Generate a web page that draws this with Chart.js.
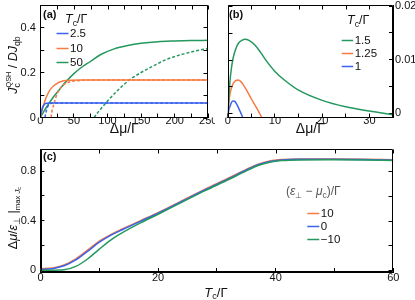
<!DOCTYPE html>
<html>
<head>
<meta charset="utf-8">
<script src="https://cdn.jsdelivr.net/npm/chart.js@4.4.0/dist/chart.umd.min.js"></script>
<style>
body { margin: 0; background: #fff; width: 415px; height: 300px; position: relative; overflow: hidden; }
canvas { position: absolute; }
</style>
</head>
<body>
<canvas id="chartA" width="215" height="140" style="left:0;top:0"></canvas>
<canvas id="chartB" width="200" height="140" style="left:215px;top:0"></canvas>
<canvas id="chartC" width="415" height="160" style="left:0;top:140px"></canvas>
<script>
const FONT = '"Liberation Sans", Arial, sans-serif';
const BLUE = '#3a62ee', ORANGE = '#f77b40', GREEN = '#24985e';

// panel (a): Jc vs dmu, solid and dashed per Tc
const aLegend = ['2.5', '10', '50'];
const aBlueX = [0, 1, 2, 3, 4, 5, 6, 8, 10, 14, 250];
const aBlueY = [0, 0.017, 0.03, 0.041, 0.049, 0.054, 0.058, 0.062, 0.063, 0.064, 0.064];
const aBlueDashX = [7, 8, 9, 10, 11, 12, 14, 17, 20, 250];
const aBlueDashY = [0, 0.017, 0.03, 0.04, 0.048, 0.053, 0.059, 0.063, 0.064, 0.064];
const aOrangeX = [0, 2, 4, 6, 8, 10, 12, 15, 20, 25, 30, 35, 45, 60, 250];
const aOrangeY = [0, 0.025, 0.047, 0.066, 0.083, 0.098, 0.11, 0.125, 0.141, 0.152, 0.159, 0.163, 0.166, 0.167, 0.167];
const aOrangeDashX = [16, 17, 18, 20, 22, 25, 28, 32, 36, 42, 50, 60, 80, 250];
const aOrangeDashY = [0, 0.022, 0.037, 0.057, 0.078, 0.105, 0.122, 0.138, 0.148, 0.157, 0.162, 0.165, 0.167, 0.167];
const aGreenX = [0, 5, 10, 15, 20, 30, 40, 50, 60, 75, 90, 110, 130, 150, 175, 200, 225, 250];
const aGreenY = [0, 0.025, 0.05, 0.072, 0.093, 0.13, 0.165, 0.195, 0.22, 0.25, 0.28, 0.305, 0.32, 0.33, 0.337, 0.34, 0.342, 0.343];
const aGreenDashX = [80, 85, 90, 100, 115, 133, 150, 170, 188, 210, 230, 250];
const aGreenDashY = [0, 0.02, 0.038, 0.073, 0.12, 0.168, 0.2, 0.232, 0.258, 0.28, 0.295, 0.307];

// panel (b)
const bLegend = ['1.5', '1.25', '1'];
const bGreenX = [0, 0.2, 0.5, 0.8, 1.2, 1.7, 2.3, 3, 3.7, 4.5, 5.8, 7, 8, 10, 12, 15, 20, 25, 30, 35];
const bGreenY = [-0.0008, 0.0022, 0.0062, 0.0085, 0.0105, 0.012, 0.0131, 0.0136, 0.0138, 0.0136, 0.0127, 0.0113, 0.01, 0.0078, 0.0062, 0.0043, 0.0024, 0.0012, 0.0004, -0.0003];
const bOrangeX = [0, 0.2, 0.5, 0.8, 1.2, 1.7, 2.2, 2.8, 3.3, 4, 5, 6, 6.5, 7.2, 7.5];
const bOrangeY = [-0.0008, 0.0015, 0.0037, 0.0047, 0.0056, 0.0061, 0.0062, 0.0059, 0.0053, 0.0043, 0.0027, 0.0012, 0.0004, -0.0008, -0.0012];
const bBlueX = [0, 0.2, 0.5, 0.8, 1.1, 1.5, 1.9, 2.3, 2.7, 3.1, 3.4];
const bBlueY = [-0.0008, 0.0005, 0.0013, 0.002, 0.0023, 0.0022, 0.0017, 0.001, 0.0002, -0.0006, -0.0012];

// panel (c)
const cLegend = ['10', '0', '\u221210'];
const cX = [0, 2, 4, 6, 8, 10, 12, 14, 17, 20, 24, 28, 32, 35, 37, 39, 41, 44, 50, 55, 60];
const cOrangeY = [0.012, 0.018, 0.042, 0.092, 0.162, 0.235, 0.29, 0.335, 0.4, 0.465, 0.56, 0.655, 0.745, 0.815, 0.858, 0.884, 0.895, 0.9, 0.9, 0.898, 0.893];
const cBlueY = [0.006, 0.012, 0.035, 0.083, 0.152, 0.226, 0.283, 0.329, 0.395, 0.46, 0.555, 0.65, 0.74, 0.81, 0.853, 0.88, 0.892, 0.897, 0.897, 0.895, 0.89];
const cGreenY = [0, 0, 0.003, 0.03, 0.09, 0.17, 0.245, 0.305, 0.382, 0.452, 0.548, 0.643, 0.733, 0.803, 0.846, 0.873, 0.886, 0.892, 0.893, 0.891, 0.887];

function line(xs, ys, color, dash, label) {
  return {
    label: label,
    data: xs.map((x, i) => ({ x: x, y: ys[i] })),
    borderColor: color,
    borderWidth: 1.5,
    borderDash: dash || [],
    pointRadius: 0,
    fill: false,
    cubicInterpolationMode: 'monotone'
  };
}

function fmt(v) {
  if (Math.abs(v) < 1e-9) return '0';
  return String(+v.toFixed(4));
}

function axis(pos, min, max, step, every, size, pad) {
  return {
    type: 'linear', position: pos, min: min, max: max,
    border: { color: '#000', width: 1 },
    grid: { drawOnChartArea: false, drawTicks: true, tickLength: -4, color: '#000' },
    ticks: {
      stepSize: step, includeBounds: false, autoSkip: false, maxRotation: 0, padding: pad,
      color: '#111', font: { family: FONT, size: 11 },
      callback: v => (Math.abs(v / every - Math.round(v / every)) < 1e-6 ? fmt(v) : '')
    },
    afterFit: s => {
      if (pos === 'bottom') s.height = size; else s.width = size;
      s.paddingTop = 0; s.paddingBottom = 0; s.paddingLeft = 0; s.paddingRight = 0;
    }
  };
}

function rich(ctx, segs, x, y, size, align, color, rot) {
  let w = 0, prev = 0;
  const items = segs.map(s => {
    const sz = size * (s.s || 1);
    const font = (s.i ? 'italic ' : '') + (s.b ? 'bold ' : '') + sz + 'px ' + FONT;
    ctx.font = font;
    const tw = ctx.measureText(s.t).width;
    let px;
    if (s.back) { px = prev; w = Math.max(w, prev + tw); }
    else { px = w; prev = w; w += tw; }
    return { t: s.t, font: font, px: px, dy: (s.dy || 0) * size };
  });
  const ox = align === 'center' ? -w / 2 : (align === 'right' ? -w : 0);
  ctx.save();
  ctx.translate(x, y);
  if (rot) ctx.rotate(-Math.PI / 2);
  ctx.fillStyle = color || '#111';
  ctx.textBaseline = 'middle';
  ctx.textAlign = 'left';
  items.forEach(it => { ctx.font = it.font; ctx.fillText(it.t, ox + it.px, it.dy); });
  ctx.restore();
}

const SUB = { s: 0.7, dy: 0.3 };
const TcG = [{ t: 'T', i: true }, Object.assign({ t: 'c' }, SUB), { t: '/\u0393' }];

const decor = {
  id: 'decor',
  afterDraw(chart, args, o) {
    const ctx = chart.ctx, a = chart.chartArea;
    const xs = chart.scales.x, ys = chart.scales.y;
    ctx.save();
    ctx.setLineDash([]);
    ctx.strokeStyle = '#000';
    ctx.lineWidth = 1;
    const L = Math.round(a.left) + 0.5, T = Math.round(a.top) + 0.5;
    const R = Math.round(a.right) - 0.5, B = Math.round(a.bottom) - 0.5;
    ctx.beginPath();
    ctx.moveTo(L, T); ctx.lineTo(R, T); ctx.lineTo(R, B); ctx.lineTo(L, B); ctx.closePath();
    xs.ticks.forEach(t => {
      const p = Math.round(xs.getPixelForValue(t.value)) + 0.5;
      ctx.moveTo(p, T); ctx.lineTo(p, T + 4);
    });
    ys.ticks.forEach(t => {
      const p = Math.round(ys.getPixelForValue(t.value)) + 0.5;
      if (ys.position === 'right') { ctx.moveTo(L, p); ctx.lineTo(L + 4, p); }
      else { ctx.moveTo(R, p); ctx.lineTo(R - 4, p); }
    });
    ctx.stroke();
    if (o.legend) {
      const lg = o.legend;
      rich(ctx, lg.title, lg.tx, lg.ty, lg.tsize, 'left', lg.tcolor);
      lg.order.forEach((di, k) => {
        const ds = chart.data.datasets[di];
        const yy = Math.round(lg.y + k * lg.dy) + 0.5;
        ctx.strokeStyle = ds.borderColor;
        ctx.lineWidth = 1.5;
        ctx.beginPath(); ctx.moveTo(lg.x, yy); ctx.lineTo(lg.x + lg.len, yy); ctx.stroke();
        rich(ctx, [{ t: ds.label }], lg.x + lg.len + 1.5, yy, 11.5, 'left', '#111');
      });
    }
    (o.texts || []).forEach(tx => rich(ctx, tx.segs, tx.x, tx.y, tx.size, tx.align, tx.color, tx.rot));
    ctx.restore();
  }
};

function baseOptions(pad) {
  return {
    responsive: false, animation: false,
    layout: { padding: pad },
    plugins: { legend: { display: false }, tooltip: { enabled: false } }
  };
}

// ---- (a)
const optA = baseOptions({ top: 5, right: 6.7, left: 0, bottom: 0 });
optA.scales = {
  x: axis('bottom', 0, 250, 25, 50, 22.5, 1),
  y: axis('left', 0, 0.5, 0.1, 0.2, 40.3, 8.5)
};
optA.scales.x.title = { display: true, text: '\u0394\u03bc/\u0393', color: '#111', font: { family: FONT, size: 14 }, padding: { top: 0, bottom: 2.5 } };
optA.plugins.decor = {
  legend: { title: TcG, tx: 65, ty: 20, tsize: 12.5, x: 56.5, y: 33, dy: 14.5, len: 12, order: [0, 2, 4] },
  texts: [
    { segs: [{ t: '(a)', b: true }], x: 43, y: 15, size: 11, align: 'left' },
    { segs: [{ t: 'J', i: true }, Object.assign({ t: 'c' }, SUB), { t: 'QSH', s: 0.58, dy: -0.42, back: true }, { t: ' / ' }, { t: 'DJ', i: true }, Object.assign({ t: 'qb' }, SUB)], x: 14, y: 65, size: 12.5, align: 'center', rot: true }
  ]
};
new Chart(document.getElementById('chartA'), {
  type: 'line',
  data: {
    datasets: [
      line(aBlueX, aBlueY, BLUE, null, aLegend[0]),
      line(aBlueDashX, aBlueDashY, BLUE, [3, 2], aLegend[0]),
      line(aOrangeX, aOrangeY, ORANGE, null, aLegend[1]),
      line(aOrangeDashX, aOrangeDashY, ORANGE, [3, 2], aLegend[1]),
      line(aGreenX, aGreenY, GREEN, null, aLegend[2]),
      line(aGreenDashX, aGreenDashY, GREEN, [3, 2], aLegend[2])
    ]
  },
  options: optA,
  plugins: [decor]
});

// ---- (b)
const optB = baseOptions({ top: 5, right: 0, left: 12.7, bottom: 0 });
optB.scales = {
  x: axis('bottom', 0, 35, 5, 10, 22.5, 1),
  y: axis('right', -0.0008, 0.0202, 0.005, 0.01, 22, 6)
};
optB.scales.x.title = { display: true, text: '\u0394\u03bc/\u0393', color: '#111', font: { family: FONT, size: 14 }, padding: { top: 0, bottom: 2.5 } };
optB.plugins.decor = {
  legend: { title: TcG, tx: 132, ty: 20.5, tsize: 12.5, x: 126.7, y: 39.5, dy: 13.2, len: 11.5, order: [0, 1, 2] },
  texts: [
    { segs: [{ t: '(b)', b: true }], x: 14, y: 15, size: 11, align: 'left' }
  ]
};
new Chart(document.getElementById('chartB'), {
  type: 'line',
  data: {
    datasets: [
      line(bGreenX, bGreenY, GREEN, null, bLegend[0]),
      line(bOrangeX, bOrangeY, ORANGE, null, bLegend[1]),
      line(bBlueX, bBlueY, BLUE, null, bLegend[2])
    ]
  },
  options: optB,
  plugins: [decor]
});

// ---- (c)
const optC = baseOptions({ top: 9, right: 21.7, left: 0, bottom: 0 });
optC.scales = {
  x: axis('bottom', 0, 60, 10, 20, 28, 3),
  y: axis('left', -0.015, 0.98, 0.2, 0.4, 40.5, 8.5)
};
optC.plugins.decor = {
  legend: {
    title: [{ t: '(' }, { t: '\u03b5', i: true }, Object.assign({ t: '\u22a5' }, SUB), { t: ' \u2212 ' }, { t: '\u03bc', i: true }, Object.assign({ t: 'c' }, SUB), { t: ')/\u0393' }],
    tx: 286, ty: 52, tsize: 12, tcolor: '#555', x: 307.3, y: 73, dy: 13, len: 12, order: [2, 1, 0]
  },
  texts: [
    { segs: [{ t: '(c)', b: true }], x: 43, y: 16.5, size: 11, align: 'left' },
    { segs: TcG, x: 216, y: 153, size: 13, align: 'center' },
    { segs: [{ t: '\u0394' }, { t: '\u03bc', i: true }, { t: '/' }, { t: '\u03b5', i: true }, Object.assign({ t: '\u22a5' }, SUB), { t: ' |' }, { t: 'max ', s: 0.62, dy: 0.32 }, { t: 'J', i: true, s: 0.62, dy: 0.32 }, { t: 'c', s: 0.45, dy: 0.45 }], x: 14, y: 78, size: 12.5, align: 'center', rot: true }
  ]
};
new Chart(document.getElementById('chartC'), {
  type: 'line',
  data: {
    datasets: [
      line(cX, cGreenY, GREEN, null, cLegend[2]),
      line(cX, cBlueY, BLUE, null, cLegend[1]),
      line(cX, cOrangeY, ORANGE, null, cLegend[0])
    ]
  },
  options: optC,
  plugins: [decor]
});
</script>
</body>
</html>
